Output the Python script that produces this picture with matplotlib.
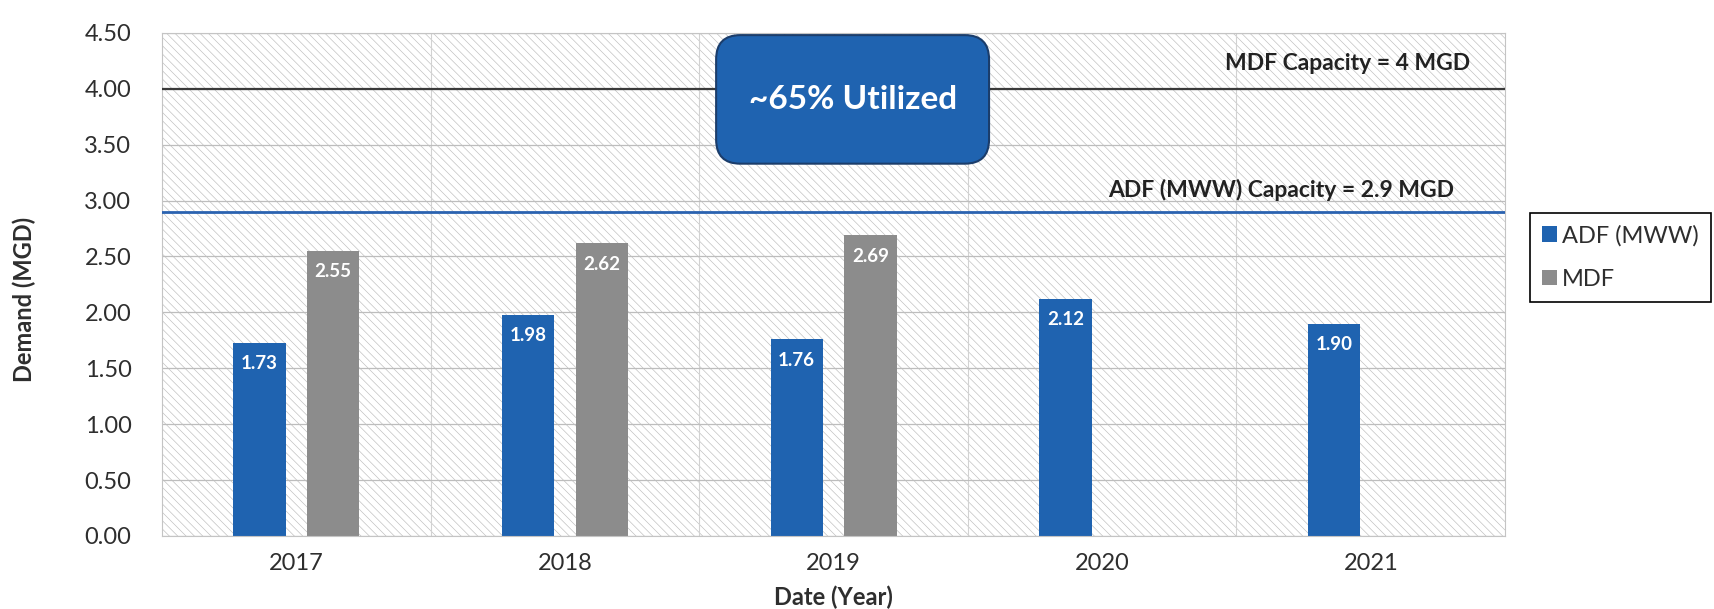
import numpy as np
import matplotlib
matplotlib.use('Agg')
import matplotlib.pyplot as plt
from matplotlib.patches import Rectangle, FancyBboxPatch

years = ['2017', '2018', '2019', '2020', '2021']
adf_mww = [1.73, 1.98, 1.76, 2.12, 1.90]
mdf = [2.55, 2.62, 2.69, np.nan, np.nan]
mdf_capacity = 4.0
adf_capacity = 2.9
y_ticks = [0.0, 0.5, 1.0, 1.5, 2.0, 2.5, 3.0, 3.5, 4.0, 4.5]

BLUE = '#1f63b0'
GREY = '#8c8c8c'
TEXT = '#2e2e2e'

plt.rcParams['font.family'] = ['Lato', 'DejaVu Sans']
plt.rcParams['hatch.linewidth'] = 0.45


def label_bars(ax, xs, vals):
	for x, v in zip(xs, vals):
		if np.isnan(v):
			continue
		ax.annotate(f'{v:.2f}', xy=(x, v), xytext=(0, -9), textcoords='offset points',
			ha='center', va='top', color='white', fontsize=13.5, fontweight='bold', zorder=5)


def main() -> None:
	fig = plt.figure(figsize=(17.14, 6.09), dpi=100)
	ax = fig.add_axes([0.0945, 0.12, 0.7836, 0.826])

	x = np.arange(len(years))
	width = 0.195
	offset = 0.137

	ax.set_xlim(-0.5, len(years) - 0.5)
	ax.set_ylim(0, 4.5)

	# hatched plot area
	ax.add_patch(Rectangle((0, 0), 1, 1, transform=ax.transAxes, facecolor='white',
		edgecolor='#bdbdbd', hatch='\\\\\\\\', lw=0, zorder=0))

	ax.set_axisbelow(True)
	ax.yaxis.grid(True, color='#bdbdbd', lw=0.9)
	for b in x[:-1] + 0.5:
		ax.axvline(b, color='#d2d2d2', lw=0.8, zorder=0.5)

	b1 = ax.bar(x - offset, adf_mww, width, color=BLUE, label='ADF (MWW)', zorder=2)
	b2 = ax.bar(x + offset, mdf, width, color=GREY, label='MDF', zorder=2)
	label_bars(ax, x - offset, adf_mww)
	label_bars(ax, x + offset, mdf)

	# capacity lines
	ax.axhline(mdf_capacity, color='#3a3a3a', lw=1.6, zorder=3)
	ax.axhline(adf_capacity, color='#2a62b0', lw=2.0, zorder=3)
	ax.annotate(f'MDF Capacity = {mdf_capacity:g} MGD', xy=(4.37, mdf_capacity), xytext=(0, 11),
		textcoords='offset points', ha='right', va='bottom', fontsize=16.5, fontweight='bold', color='#222222')
	ax.annotate(f'ADF (MWW) Capacity = {adf_capacity:g} MGD', xy=(4.31, adf_capacity), xytext=(0, 8),
		textcoords='offset points', ha='right', va='bottom', fontsize=16.5, fontweight='bold', color='#222222')

	# utilisation callout
	fw, fh = fig.get_size_inches() * fig.dpi
	px_x = ax.get_position().width * fw / 5.0
	px_y = ax.get_position().height * fh / 4.5
	box = FancyBboxPatch((1.563, 3.33), 1.016, 1.15,
		boxstyle='round,pad=0,rounding_size=0.09', mutation_aspect=px_x / px_y,
		facecolor='#1f63b0', edgecolor='#1b3d6b', lw=1.5, zorder=4)
	ax.add_patch(box)
	ax.text(2.071, 3.905, '~65% Utilized', ha='center', va='center', color='white',
		fontsize=24, fontweight='bold', zorder=5)

	ax.set_xticks(x)
	ax.set_xticklabels(years)
	ax.set_yticks(y_ticks)
	ax.set_yticklabels([f'{t:.2f}' for t in y_ticks])
	ax.tick_params(axis='both', length=0, labelsize=17, colors=TEXT)
	ax.tick_params(axis='y', pad=22)
	ax.tick_params(axis='x', pad=12)

	for s in ax.spines.values():
		s.set_color('#c4c4c4')
		s.set_linewidth(0.8)

	ax.set_ylabel('Demand (MGD)', fontsize=17, fontweight='bold', color=TEXT)
	ax.yaxis.set_label_coords(-0.094, 0.47)
	ax.set_xlabel('Date (Year)', fontsize=17, fontweight='bold', color=TEXT)
	ax.xaxis.set_label_coords(0.5, -0.098)

	leg = ax.legend(handles=[b1, b2], loc='upper left', bbox_to_anchor=(0.8927, 0.65),
		bbox_transform=fig.transFigure, frameon=True, fancybox=False, edgecolor='black',
		framealpha=1, fontsize=17, handlelength=0.65, handleheight=0.65, handletextpad=0.2,
		labelspacing=0.95, borderpad=0.5, borderaxespad=0)
	leg.get_frame().set_linewidth(1.2)
	for t in leg.get_texts():
		t.set_color(TEXT)

	fig.savefig('out.png', dpi=100)


if __name__ == '__main__':
	main()
